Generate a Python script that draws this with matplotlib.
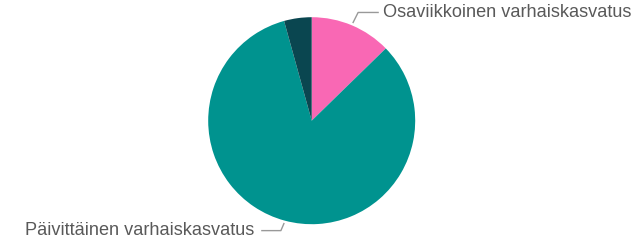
import numpy as np
import matplotlib
matplotlib.use('Agg')
import matplotlib.pyplot as plt

# osuudet (%), myötäpäivään ylhäältä alkaen
luokat = ['Osaviikkoinen varhaiskasvatus', 'Päivittäinen varhaiskasvatus', '']
osuudet = [12.7, 83.0, 4.3]
varit = ['#F968B4', '#00938F', '#0A4650']

plt.rcParams['font.family'] = ['Liberation Sans', 'DejaVu Sans']

fig = plt.figure(figsize=(6.41, 2.44), dpi=100)
ax = fig.add_axes([0, 0, 1, 1])

kx, ky, r = 311.7, 123.3, 103.5          # keskipiste ja säde pikseleinä
ax.pie(osuudet, colors=varit, startangle=90, counterclock=False,
       center=(kx, ky), radius=r, wedgeprops={'linewidth': 0})
ax.set_xlim(0, 641)
ax.set_ylim(0, 244)
ax.set_aspect('equal')
ax.axis('off')

harmaa = '#999999'
teksti = '#595959'

# johtoviivat siivujen keskikulmista
kumul = np.cumsum([0] + osuudet)
for i, nimi in enumerate(luokat):
    if not nimi:
        continue
    kulma = np.deg2rad(90 - (kumul[i] + osuudet[i] / 2) * 3.6)
    x0 = kx + r * 1.03 * np.cos(kulma)
    y0 = ky + r * 1.03 * np.sin(kulma)
    if np.cos(kulma) >= 0:
        x1, y1 = x0 + 5, y0 + 10
        x2 = x1 + 20
        ax.plot([x0, x1, x2], [y0, y1, y1], color=harmaa, lw=1)
        ax.text(x2 + 5, y1, nimi, ha='left', va='center', fontsize=13.1, color=teksti)
    else:
        x1, y1 = x0 - 3, y0 - 7
        x2 = x1 - 19
        ax.plot([x0, x1, x2], [y0, y1, y1], color=harmaa, lw=1)
        ax.text(x2 - 8, y1, nimi, ha='right', va='center', fontsize=13.1, color=teksti)

fig.savefig('out.png', dpi=100)
